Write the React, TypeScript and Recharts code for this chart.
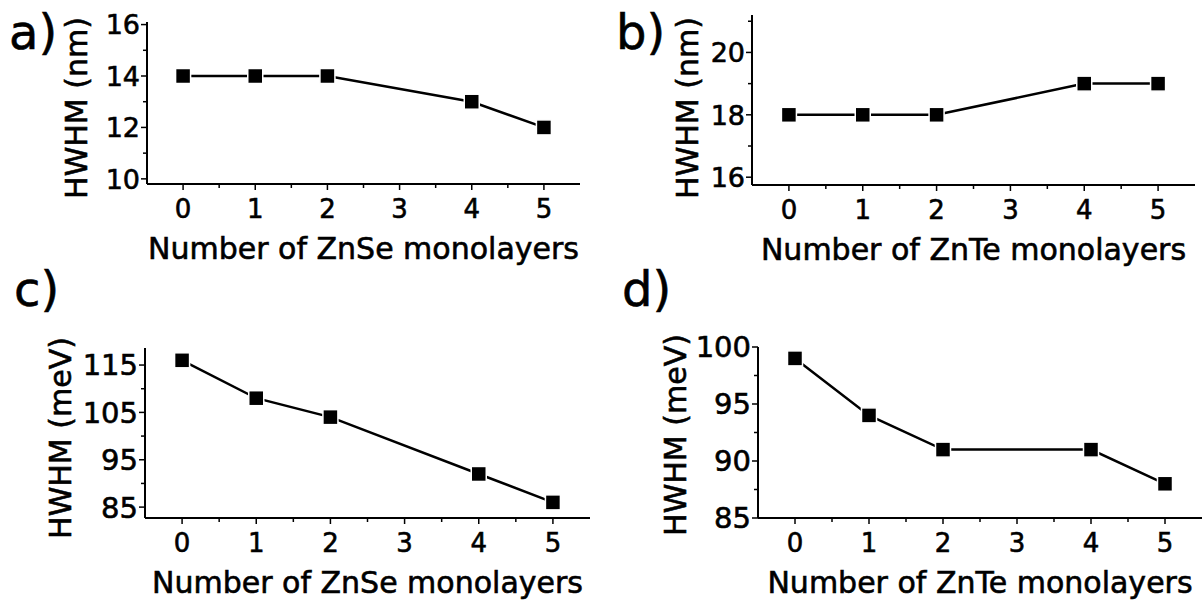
import React from 'react';
import { LineChart, Line, XAxis, YAxis, Label } from 'recharts';

const FONT = '"DejaVu Sans", sans-serif';

// monolayer counts on the x axis
const layers = [0, 1, 2, 4, 5];
const xMajor = [0, 1, 2, 3, 4, 5];
const xMinor = [0.5, 1.5, 2.5, 3.5, 4.5];

// HWHM values
const znSeNm = [14, 14, 14, 13, 12];
const znTeNm = [18, 18, 18, 19, 19];
const znSeMeV = [116, 108, 104, 92, 86];
const znTeMeV = [99, 94, 91, 91, 88];

// y tick values per panel
const aMajor = [10, 12, 14, 16];
const aMinor = [11, 13, 15];
const bMajor = [16, 18, 20];
const bMinor = [17, 19, 21];
const cMajor = [85, 95, 105, 115];
const cMinor = [90, 100, 110];
const dMajor = [85, 90, 95, 100];
const dMinor = [87.5, 92.5, 97.5];

const toRows = (ys: number[]) => layers.map((x, i) => ({ x, y: ys[i] }));

const textStyle = { stroke: '#000', strokeWidth: 0.6 };

const XTick = (props: any) => {
  const { x, y, payload } = props;
  const major = xMajor.includes(payload.value);
  return (
    <g>
      <line x1={x} x2={x} y1={y} y2={y + (major ? 6 : 4)} stroke="#000" strokeWidth={1.5} />
      {major && (
        <text x={x} y={y + 34} textAnchor="middle" fontSize={26} fontFamily={FONT} fill="#000" style={textStyle}>
          {payload.value}
        </text>
      )}
    </g>
  );
};

const makeYTick = (majors: number[], fs: number) => (props: any) => {
  const { x, y, payload } = props;
  const major = majors.includes(payload.value);
  return (
    <g>
      <line x1={x} x2={x - (major ? 6 : 4)} y1={y} y2={y} stroke="#000" strokeWidth={1.5} />
      {major && (
        <text x={x - 7} y={y} dy="0.36em" textAnchor="end" fontSize={fs} fontFamily={FONT} fill="#000" style={textStyle}>
          {payload.value}
        </text>
      )}
    </g>
  );
};

const square = (p: any) => {
  if (p.cx == null || p.cy == null) return <g key={p.index} />;
  return (
    <rect key={p.index} x={p.cx - 7.5} y={p.cy - 7.5} width={15} height={15} fill="#000" stroke="#fff" strokeWidth={1.5} />
  );
};

interface PanelProps {
  ox: number; oy: number; w: number; h: number;
  l: number; t: number; r: number; b: number;
  ys: number[];
  yDomain: [number, number];
  majors: number[]; minors: number[];
  yFont: number;
  yTitle: string; yTx: number; yTy: number;
  xTitle: string; xTy: number;
  tag: string; tagX: number; tagY: number;
}

const Panel: React.FC<PanelProps> = (p) => {
  const margin = { left: p.l - p.ox - 60, top: p.t - p.oy, right: p.ox + p.w - p.r, bottom: p.oy + p.h - p.b - 40 };
  const yt = [...p.majors, ...p.minors].sort((a, b) => a - b);
  const xt = [...xMajor, ...xMinor].sort((a, b) => a - b);
  return (
    <div style={{ position: 'absolute', left: p.ox, top: p.oy, width: p.w, height: p.h }}>
      <LineChart width={p.w} height={p.h} data={toRows(p.ys)} margin={margin}>
        <XAxis
          type="number" dataKey="x" domain={[-0.5, 5.5]} ticks={xt} interval={0}
          tickSize={0} tickMargin={0} tick={<XTick />} height={40}
          axisLine={{ stroke: '#000', strokeWidth: 2 }}
        >
          <Label
            content={() => (
              <text x={(p.l + p.r) / 2 - p.ox} y={p.xTy - p.oy} textAnchor="middle" fontSize={30} fontFamily={FONT} fill="#000" style={textStyle}>
                {p.xTitle}
              </text>
            )}
          />
        </XAxis>
        <YAxis
          type="number" domain={p.yDomain} ticks={yt} interval={0} allowDataOverflow
          tickSize={0} tickMargin={0} tick={makeYTick(p.majors, p.yFont)} width={60}
          axisLine={{ stroke: '#000', strokeWidth: 2 }}
        >
          <Label
            content={() => {
              const cx = p.yTx - p.ox;
              const cy = p.yTy - p.oy;
              return (
                <text x={cx} y={cy} dy="0.36em" transform={`rotate(-90, ${cx}, ${cy})`} textAnchor="middle" fontSize={30} fontFamily={FONT} fill="#000" style={textStyle}>
                  {p.yTitle}
                </text>
              );
            }}
          />
        </YAxis>
        <Line
          type="linear" dataKey="y" stroke="#000" strokeWidth={2.5}
          dot={square} activeDot={false} isAnimationActive={false}
        />
      </LineChart>
      <span style={{ position: 'absolute', left: p.tagX - p.ox, top: p.tagY - p.oy - 46, fontFamily: FONT, fontSize: 48, lineHeight: '56px', color: '#000', WebkitTextStroke: '0.6px #000' }}>
        {p.tag}
      </span>
    </div>
  );
};

export default function App() {
  return (
    <div style={{ position: 'absolute', left: 0, top: 0, width: 1202, height: 602, background: '#fff', overflow: 'hidden' }}>
      <Panel
        ox={0} oy={0} w={601} h={301} l={147} t={22} r={580} b={184}
        ys={znSeNm} yDomain={[9.8, 16.1]} majors={aMajor} minors={aMinor} yFont={27}
        yTitle="HWHM (nm)" yTx={76} yTy={108} xTitle="Number of ZnSe monolayers" xTy={259}
        tag="a)" tagX={9} tagY={50}
      />
      <Panel
        ox={601} oy={0} w={601} h={301} l={752} t={15} r={1195} b={185}
        ys={znTeNm} yDomain={[15.75, 21.2]} majors={bMajor} minors={bMinor} yFont={27}
        yTitle="HWHM (nm)" yTx={687} yTy={108} xTitle="Number of ZnTe monolayers" xTy={260}
        tag="b)" tagX={616} tagY={50}
      />
      <Panel
        ox={0} oy={301} w={601} h={301} l={145} t={348} r={590} b={518}
        ys={znSeMeV} yDomain={[82.7, 118.6]} majors={cMajor} minors={cMinor} yFont={29}
        yTitle="HWHM (meV)" yTx={60} yTy={438} xTitle="Number of ZnSe monolayers" xTy={593}
        tag="c)" tagX={14} tagY={307}
      />
      <Panel
        ox={601} oy={301} w={601} h={301} l={758} t={347} r={1202} b={518}
        ys={znTeMeV} yDomain={[85, 100]} majors={dMajor} minors={dMinor} yFont={29}
        yTitle="HWHM (meV)" yTx={675} yTy={435} xTitle="Number of ZnTe monolayers" xTy={593}
        tag="d)" tagX={622} tagY={307}
      />
    </div>
  );
}
